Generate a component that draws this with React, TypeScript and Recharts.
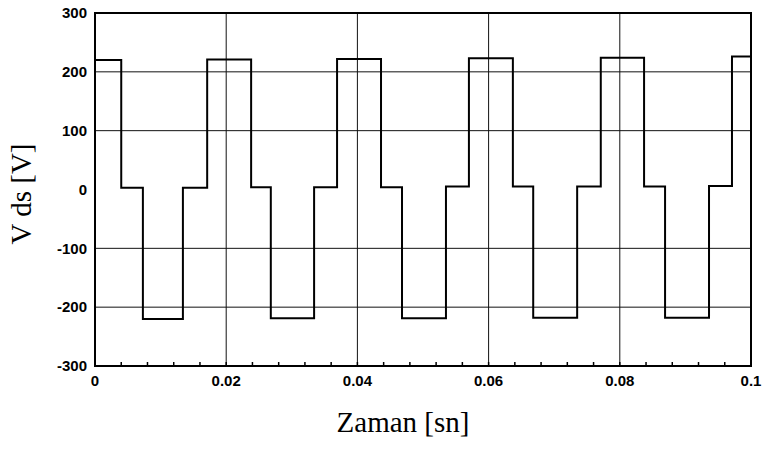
import React from 'react';
import { LineChart, Line, XAxis, YAxis, CartesianGrid, ReferenceArea } from 'recharts';

// segment start times [s] and the level held until the next one [V]
const edgeTimes = [
  0, 0.004, 0.0073, 0.0134, 0.0171, 0.0238, 0.0268, 0.0334, 0.0369, 0.0436,
  0.0468, 0.0535, 0.057, 0.0637, 0.0668, 0.0735, 0.0771, 0.0837, 0.0869,
  0.0936, 0.0971, 0.1,
];
const vdsLevels = [
  220, 3, -220, 3, 221, 4, -219, 4, 222, 4, -219, 5, 223, 5, -218, 5, 224, 5,
  -218, 6, 226, 226,
];

const xTicks = [0, 0.02, 0.04, 0.06, 0.08, 0.1];
const xMinorTicks = [
  0, 0.004, 0.008, 0.012, 0.016, 0.02, 0.024, 0.028, 0.032, 0.036, 0.04,
  0.044, 0.048, 0.052, 0.056, 0.06, 0.064, 0.068, 0.072, 0.076, 0.08, 0.084,
  0.088, 0.092, 0.096, 0.1,
];
const yTicks = [-300, -200, -100, 0, 100, 200, 300];

const data = edgeTimes.map((t, i) => ({ t, v: vdsLevels[i] }));

const tickFont = 'Liberation Sans, Arial, sans-serif';
const titleFont = 'Liberation Serif, Times New Roman, serif';

function XTick(props: any) {
  const { x, y, payload } = props;
  const val = payload.value as number;
  const major = xTicks.some((m) => Math.abs(m - val) < 1e-9);
  return (
    <g>
      <line x1={x} y1={y} x2={x} y2={y - 4} stroke="#000" strokeWidth={1.5} />
      {major && (
        <text
          x={x}
          y={y + 20}
          textAnchor="middle"
          fontFamily={tickFont}
          fontWeight="bold"
          fontSize={15}
          fill="#000"
        >
          {String(val)}
        </text>
      )}
    </g>
  );
}

export default function App() {
  return (
    <div style={{ position: 'absolute', left: 0, top: 0, width: 765, height: 451, background: '#fff' }}>
      <LineChart
        width={765}
        height={451}
        data={data}
        margin={{ top: 13, right: 14, left: 35, bottom: 55 }}
      >
        <CartesianGrid
          stroke="#111"
          strokeWidth={1}
          horizontalValues={[-200, -100, 100, 200]}
          verticalValues={[0.02, 0.04, 0.06, 0.08]}
        />
        <XAxis
          dataKey="t"
          type="number"
          domain={[0, 0.1]}
          ticks={xMinorTicks}
          interval={0}
          height={30}
          tickSize={0}
          tickMargin={0}
          tickLine={false}
          axisLine={false}
          tick={<XTick />}
        />
        <YAxis
          type="number"
          domain={[-300, 300]}
          ticks={yTicks}
          interval={0}
          width={60}
          tickSize={0}
          tickMargin={8}
          tickLine={false}
          axisLine={false}
          tick={{ fill: '#000', fontFamily: tickFont, fontWeight: 'bold', fontSize: 15 }}
        />
        <ReferenceArea
          x1={0}
          x2={0.1}
          y1={-300}
          y2={300}
          fill="none"
          fillOpacity={0}
          stroke="#000"
          strokeWidth={2}
          ifOverflow="visible"
        />
        <Line
          type="stepAfter"
          dataKey="v"
          stroke="#000"
          strokeWidth={2}
          dot={false}
          isAnimationActive={false}
        />
      </LineChart>
      <div
        style={{
          position: 'absolute',
          left: 21,
          top: 194,
          transform: 'translate(-50%, -50%) rotate(-90deg)',
          fontFamily: titleFont,
          fontSize: 29,
          whiteSpace: 'nowrap',
          color: '#000',
        }}
      >
        V ds [V]
      </div>
      <div
        style={{
          position: 'absolute',
          left: 403,
          top: 422,
          transform: 'translate(-50%, -50%)',
          fontFamily: titleFont,
          fontSize: 29,
          whiteSpace: 'nowrap',
          color: '#000',
        }}
      >
        Zaman [sn]
      </div>
    </div>
  );
}
